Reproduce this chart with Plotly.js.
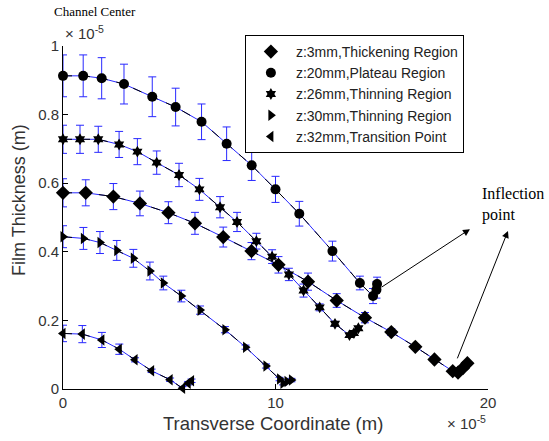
<!DOCTYPE html>
<html>
<head>
<meta charset="utf-8">
<script src="https://cdn.plot.ly/plotly-3.0.1.min.js"></script>
<style>html,body{margin:0;padding:0;background:#fff;}#chart{width:549px;height:441px;}</style>
</head>
<body>
<div id="chart"></div>
<script>
// Units: both axes in 1e-5 m
const seriesNames = ["z:3mm,Thickening Region", "z:20mm,Plateau Region", "z:26mm,Thinning Region", "z:30mm,Thinning Region", "z:32mm,Transition Point"];

const x_3mm = [0, 1.07, 2.37, 3.62, 4.96, 6.21, 7.54, 8.87, 10.14, 11.53, 12.88, 14.21, 15.45, 16.58, 17.48, 18.34, 18.59, 18.82, 19.03];
const y_3mm = [0.572, 0.572, 0.561, 0.541, 0.514, 0.483, 0.443, 0.402, 0.362, 0.313, 0.258, 0.208, 0.166, 0.123, 0.086, 0.052, 0.048, 0.061, 0.075];
const e_3mm = [0.041, 0.038, 0.038, 0.036, 0.032, 0.032, 0.029, 0.025, 0.024, 0.025, 0.02, 0.015, 0.01, 0.007, 0.006, 0.005, 0.005, 0.005, 0.005];

const x_20mm = [0, 0.95, 1.82, 2.87, 4.2, 5.3, 6.52, 7.7, 8.88, 10.0, 11.12, 12.68, 13.97, 14.59, 14.75, 14.78];
const y_20mm = [0.913, 0.913, 0.906, 0.889, 0.852, 0.822, 0.779, 0.715, 0.652, 0.582, 0.511, 0.402, 0.309, 0.271, 0.289, 0.306];
const e_20mm = [0.061, 0.061, 0.06, 0.058, 0.058, 0.055, 0.052, 0.049, 0.044, 0.038, 0.036, 0.029, 0.02, 0.022, 0.024, 0.02];

const x_26mm = [0, 0.8, 1.66, 2.64, 3.5, 4.41, 5.46, 6.42, 7.39, 8.19, 9.1, 9.84, 10.63, 11.32, 12.08, 12.8, 13.48, 13.69, 13.9];
const y_26mm = [0.728, 0.728, 0.728, 0.713, 0.692, 0.66, 0.624, 0.582, 0.53, 0.487, 0.431, 0.386, 0.334, 0.287, 0.238, 0.19, 0.157, 0.163, 0.177];
const e_26mm = [0.041, 0.041, 0.038, 0.038, 0.038, 0.034, 0.034, 0.032, 0.031, 0.028, 0.023, 0.02, 0.018, 0.019, 0.01, 0.007, 0.005, 0.005, 0.005];

const x_30mm = [0, 0.96, 1.74, 2.53, 3.31, 4.09, 4.72, 5.57, 6.45, 7.62, 8.59, 9.55, 10.19, 10.35, 10.54, 10.75];
const y_30mm = [0.444, 0.439, 0.427, 0.404, 0.381, 0.344, 0.309, 0.271, 0.23, 0.173, 0.122, 0.067, 0.029, 0.017, 0.022, 0.026];
const e_30mm = [0.032, 0.032, 0.032, 0.029, 0.026, 0.026, 0.02, 0.017, 0.012, 0.009, 0.006, 0.006, 0.005, 0.005, 0.005, 0.005];

const x_32mm = [0, 0.91, 1.83, 2.65, 3.39, 4.17, 5.04, 5.63, 5.89, 6.05];
const y_32mm = [0.162, 0.16, 0.143, 0.116, 0.085, 0.053, 0.027, 0.002, 0.017, 0.024];
const e_32mm = [0.024, 0.025, 0.022, 0.015, 0.006, 0.005, 0.005, 0.005, 0.005, 0.005];

const xTicks = [0, 10, 20];
const xTickText = ["0", "10", "20"];
const yTicks = [0, 0.2, 0.4, 0.6, 0.8, 1];
const yTickText = ["0", "0.2", "0.4", "0.6", "0.8", "1"];

const symbols = ["diamond", "circle", "hexagram", "triangle-right", "triangle-left"];
const symbolSizes = [11, 10, 9, 10, 10];
const xs = [x_3mm, x_20mm, x_26mm, x_30mm, x_32mm];
const ys = [y_3mm, y_20mm, y_26mm, y_30mm, y_32mm];
const es = [e_3mm, e_20mm, e_26mm, e_30mm, e_32mm];

const BLUE = "rgb(40,40,255)";
const traces = [];
for (let i = 0; i < 5; i++) {
  traces.push({
    x: xs[i], y: ys[i], type: "scatter", mode: "lines", showlegend: false, cliponaxis: false,
    line: {color: BLUE, width: 1},
    error_y: {type: "data", array: es[i], visible: true, color: BLUE, thickness: 1, width: 4}
  });
  traces.push({
    x: xs[i], y: ys[i], type: "scatter", mode: "lines", showlegend: false, cliponaxis: false,
    line: {color: "black", width: 1, dash: "dash"}
  });
}
for (let i = 0; i < 5; i++) {
  traces.push({
    x: xs[i], y: ys[i], type: "scatter", mode: "markers", name: seriesNames[i], cliponaxis: false,
    marker: {symbol: symbols[i], size: symbolSizes[i], color: "black", line: {width: 0}}
  });
}

const layout = {
  width: 549, height: 441,
  margin: {l: 63, r: 61, t: 46, b: 52},
  paper_bgcolor: "white", plot_bgcolor: "white",
  font: {family: "Liberation Sans, Arial, sans-serif", color: "#222"},
  xaxis: {range: [0, 20], tickvals: xTicks, ticktext: xTickText, ticks: "inside", ticklen: 5,
    tickcolor: "black", showline: true, linecolor: "black", linewidth: 1, mirror: false,
    showgrid: false, zeroline: false, tickfont: {size: 15, color: "#333"}},
  yaxis: {range: [0, 1], tickvals: yTicks, ticktext: yTickText, ticks: "inside", ticklen: 5,
    tickcolor: "black", showline: true, linecolor: "black", linewidth: 1, mirror: false,
    showgrid: false, zeroline: false, tickfont: {size: 15, color: "#333"}},
  showlegend: true,
  legend: {x: 0.428, y: 1.032, xanchor: "left", yanchor: "top", bgcolor: "white",
    bordercolor: "black", borderwidth: 1, itemwidth: 40, tracegroupgap: 0,
    font: {size: 14, color: "#222", family: "Liberation Sans, Arial, sans-serif"}},
  annotations: [
    {xref: "paper", yref: "paper", x: 0.494, y: -0.102, text: "Transverse Coordinate (m)", showarrow: false,
      font: {size: 18.5, color: "#333"}, xanchor: "center", yanchor: "middle"},
    {xref: "paper", yref: "paper", x: -0.1035, y: 0.551, text: "Film Thickness (m)", showarrow: false,
      textangle: -90, font: {size: 18, color: "#333"}, xanchor: "center", yanchor: "middle"},
    {xref: "paper", yref: "paper", x: 0, y: 1.04, text: "× 10<sup>-5</sup>", showarrow: false,
      font: {size: 15, color: "#333"}, xanchor: "left", yanchor: "middle"},
    {xref: "paper", yref: "paper", x: 1, y: -0.099, text: "× 10<sup>-5</sup>", showarrow: false,
      font: {size: 15, color: "#333"}, xanchor: "right", yanchor: "middle"},
    {xref: "paper", yref: "paper", x: 0.075, y: 1.102, text: "Channel Center", showarrow: false,
      font: {size: 13, color: "black", family: "Liberation Serif, Times New Roman, serif"}, xanchor: "center", yanchor: "middle"},
    {xref: "paper", yref: "paper", x: 0.981, y: 0.6006, text: "Inflection<br>point", showarrow: false, align: "left",
      font: {size: 16, color: "black", family: "Liberation Serif, Times New Roman, serif"}, xanchor: "left", yanchor: "top"},
    {xref: "x", yref: "y", x: 19.15, y: 0.466, axref: "x", ayref: "y", ax: 14.92, ay: 0.294, text: "",
      showarrow: true, arrowhead: 2, arrowsize: 1.4, arrowwidth: 1, arrowcolor: "black", standoff: 0},
    {xref: "x", yref: "y", x: 20.94, y: 0.461, axref: "x", ayref: "y", ax: 18.53, ay: 0.085, text: "",
      showarrow: true, arrowhead: 2, arrowsize: 1.4, arrowwidth: 1, arrowcolor: "black", standoff: 0}
  ]
};

Plotly.newPlot("chart", traces, layout, {displayModeBar: false, staticPlot: true});
</script>
</body>
</html>
